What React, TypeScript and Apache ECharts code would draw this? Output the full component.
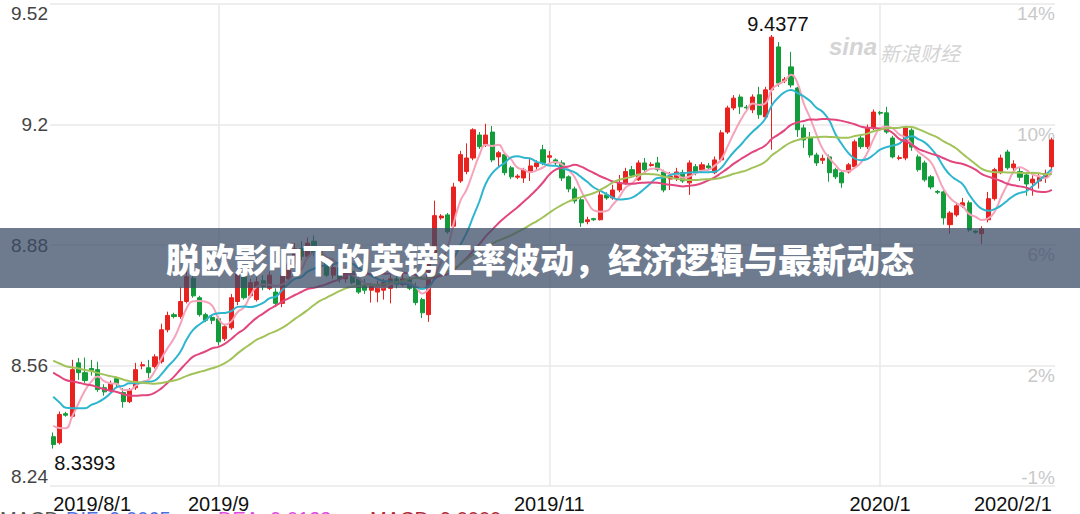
import { useEffect, useRef } from 'react';
import * as echarts from 'echarts';

// ---------- DATA ----------
const skippedDates = ['2019/8/31'];
const xTickLabels: Record<string, string> = {
  '2019/8/1': '2019/8/1',
  '2019/9/2': '2019/9',
  '2019/11/1': '2019/11',
  '2020/1/1': '2020/1',
  '2020/2/1': '2020/2/1',
};
const xGridDates = ['2019/9/2', '2019/11/1', '2020/1/1'];
const priceTicks = [8.24, 8.56, 8.88, 9.2, 9.52];
const pctTicks = [-1, 2, 6, 10, 14];

// closes before the first visible day (used only for the moving averages)
const preCloses = [
  8.66, 8.65, 8.64, 8.63, 8.64, 8.63, 8.64, 8.63, 8.63, 8.62,
  8.63, 8.62, 8.62, 8.61, 8.6, 8.61, 8.6, 8.59, 8.59, 8.58,
  8.58, 8.57, 8.56, 8.54, 8.52, 8.46, 8.43, 8.39, 8.37,
];

// [open, close, low, high]
const candles: number[][] = [
  [8.371, 8.35, 8.3393, 8.382], [8.355, 8.43, 8.35, 8.438], [8.432, 8.428, 8.424, 8.437], [8.425, 8.549, 8.422, 8.575],
  [8.567, 8.541, 8.522, 8.58], [8.541, 8.52, 8.514, 8.581], [8.552, 8.547, 8.533, 8.575], [8.549, 8.496, 8.49, 8.57],
  [8.501, 8.49, 8.48, 8.51], [8.493, 8.512, 8.486, 8.52], [8.525, 8.512, 8.5, 8.53], [8.488, 8.464, 8.448, 8.5],
  [8.464, 8.496, 8.46, 8.5], [8.501, 8.549, 8.495, 8.567], [8.559, 8.562, 8.55, 8.57], [8.554, 8.541, 8.527, 8.575],
  [8.557, 8.583, 8.552, 8.59], [8.57, 8.655, 8.565, 8.671], [8.655, 8.693, 8.648, 8.703], [8.695, 8.69, 8.685, 8.7],
  [8.69, 8.73, 8.684, 8.768], [8.73, 8.796, 8.725, 8.81], [8.792, 8.745, 8.74, 8.8], [8.74, 8.695, 8.69, 8.745],
  [8.695, 8.68, 8.675, 8.7], [8.688, 8.68, 8.67, 8.695], [8.684, 8.623, 8.613, 8.69], [8.631, 8.663, 8.625, 8.67],
  [8.66, 8.74, 8.655, 8.75], [8.73, 8.805, 8.72, 8.83], [8.8, 8.74, 8.735, 8.81], [8.745, 8.78, 8.74, 8.79],
  [8.735, 8.782, 8.73, 8.795], [8.785, 8.77, 8.76, 8.8], [8.765, 8.8, 8.76, 8.81], [8.755, 8.725, 8.715, 8.765],
  [8.725, 8.8, 8.715, 8.815], [8.79, 8.83, 8.785, 8.84], [8.83, 8.87, 8.82, 8.885], [8.87, 8.85, 8.84, 8.89],
  [8.85, 8.885, 8.845, 8.9], [8.89, 8.86, 8.85, 8.905], [8.865, 8.84, 8.83, 8.875], [8.84, 8.8, 8.795, 8.85],
  [8.8, 8.82, 8.79, 8.83], [8.82, 8.79, 8.78, 8.825], [8.79, 8.81, 8.78, 8.82], [8.81, 8.78, 8.775, 8.82],
  [8.79, 8.755, 8.75, 8.8], [8.77, 8.76, 8.75, 8.79], [8.76, 8.77, 8.727, 8.78], [8.755, 8.775, 8.728, 8.785],
  [8.76, 8.78, 8.735, 8.79], [8.765, 8.79, 8.725, 8.8], [8.79, 8.775, 8.765, 8.8], [8.775, 8.79, 8.77, 8.81],
  [8.79, 8.765, 8.76, 8.8], [8.769, 8.727, 8.72, 8.78], [8.735, 8.7, 8.686, 8.74], [8.695, 8.833, 8.676, 8.84],
  [8.845, 8.958, 8.84, 8.998], [8.952, 8.957, 8.947, 8.962], [8.96, 8.915, 8.91, 8.965], [8.93, 9.034, 8.925, 9.045],
  [9.05, 9.12, 9.045, 9.13], [9.075, 9.111, 9.068, 9.15], [9.111, 9.186, 9.105, 9.19], [9.172, 9.141, 9.135, 9.18],
  [9.146, 9.172, 9.14, 9.202], [9.18, 9.106, 9.1, 9.196], [9.114, 9.125, 9.088, 9.13], [9.12, 9.072, 9.065, 9.125],
  [9.085, 9.061, 9.055, 9.09], [9.06, 9.063, 9.055, 9.068], [9.058, 9.08, 9.045, 9.085], [9.075, 9.09, 9.05, 9.112],
  [9.088, 9.098, 9.08, 9.105], [9.133, 9.098, 9.092, 9.146], [9.113, 9.117, 9.098, 9.13], [9.106, 9.098, 9.09, 9.11],
  [9.098, 9.058, 9.05, 9.105], [9.061, 9.029, 9.02, 9.065], [9.029, 8.997, 8.99, 9.035], [9.0, 8.939, 8.928, 9.005],
  [8.942, 8.947, 8.935, 8.955], [8.95, 8.947, 8.944, 8.952], [8.947, 9.013, 8.945, 9.026], [9.013, 9.005, 9.0, 9.02],
  [9.005, 9.026, 9.0, 9.04], [9.026, 9.045, 9.02, 9.066], [9.045, 9.075, 9.04, 9.085], [9.08, 9.065, 9.058, 9.09],
  [9.053, 9.098, 9.05, 9.105], [9.098, 9.08, 9.075, 9.111], [9.091, 9.094, 9.088, 9.1], [9.098, 9.08, 9.075, 9.114],
  [9.074, 9.026, 9.02, 9.08], [9.055, 9.062, 9.026, 9.074], [9.058, 9.074, 9.05, 9.085], [9.072, 9.05, 9.045, 9.08],
  [9.045, 9.098, 9.013, 9.105], [9.088, 9.072, 9.065, 9.095], [9.08, 9.093, 9.075, 9.1], [9.09, 9.085, 9.078, 9.098],
  [9.072, 9.106, 9.068, 9.115], [9.106, 9.178, 9.1, 9.185], [9.18, 9.244, 9.175, 9.25], [9.244, 9.27, 9.238, 9.278],
  [9.273, 9.247, 9.228, 9.28], [9.246, 9.244, 9.238, 9.252], [9.239, 9.273, 9.23, 9.28], [9.279, 9.226, 9.215, 9.3],
  [9.22, 9.292, 9.215, 9.3], [9.292, 9.432, 9.133, 9.4377], [9.406, 9.31, 9.3, 9.419], [9.316, 9.32, 9.31, 9.326],
  [9.353, 9.305, 9.298, 9.393], [9.297, 9.186, 9.167, 9.3], [9.191, 9.159, 9.138, 9.2], [9.164, 9.119, 9.112, 9.18],
  [9.119, 9.098, 9.09, 9.125], [9.105, 9.11, 9.095, 9.12], [9.114, 9.072, 9.048, 9.12], [9.08, 9.061, 9.055, 9.085],
  [9.072, 9.045, 9.032, 9.078], [9.074, 9.093, 9.07, 9.098], [9.088, 9.154, 9.085, 9.16], [9.164, 9.141, 9.135, 9.17],
  [9.141, 9.191, 9.135, 9.2], [9.191, 9.233, 9.185, 9.24], [9.232, 9.23, 9.225, 9.236], [9.231, 9.18, 9.175, 9.247],
  [9.164, 9.114, 9.11, 9.17], [9.11, 9.112, 9.105, 9.118], [9.111, 9.191, 9.105, 9.195], [9.185, 9.14, 9.13, 9.19],
  [9.114, 9.08, 9.075, 9.12], [9.098, 9.053, 9.048, 9.104], [9.061, 9.034, 9.028, 9.066], [9.022, 9.02, 9.015, 9.026],
  [9.021, 8.952, 8.934, 9.025], [8.934, 8.965, 8.91, 8.97], [8.96, 8.984, 8.955, 8.99], [8.984, 8.992, 8.978, 9.005],
  [8.992, 8.92, 8.915, 8.998], [8.917, 8.914, 8.91, 8.92], [8.91, 8.923, 8.883, 8.93], [8.947, 9.003, 8.94, 9.021],
  [9.003, 9.08, 8.998, 9.085], [9.072, 9.111, 9.068, 9.12], [9.127, 9.085, 9.08, 9.133], [9.085, 9.095, 9.075, 9.105],
  [9.075, 9.06, 9.05, 9.085], [9.066, 9.042, 9.011, 9.07], [9.045, 9.055, 9.011, 9.065], [9.05, 9.06, 9.03, 9.07],
  [9.06, 9.07, 9.045, 9.08], [9.088, 9.159, 9.082, 9.165],
];

const maPeriods = [5, 10, 20, 30];
const maColors = ['#f4a3ba', '#2fb6cf', '#e2467e', '#a2c35a'];
const legendTexts = [
  { text: 'MACD', color: '#555555' },
  { text: 'DIF: 9.0065', color: '#4f6fe0' },
  { text: 'DEA: 9.0123', color: '#e04ae0' },
  { text: 'MACD: 9.0000', color: '#b02a3a' },
];
const titleText = '脱欧影响下的英镑汇率波动，经济逻辑与最新动态';

// ---------- HELPERS ----------
function buildCategories(): string[] {
  const out: string[] = [];
  const d = new Date(Date.UTC(2019, 7, 1));
  const end = Date.UTC(2020, 1, 1);
  while (d.getTime() <= end) {
    if (d.getUTCDay() !== 0) {
      const s = `${d.getUTCFullYear()}/${d.getUTCMonth() + 1}/${d.getUTCDate()}`;
      if (!skippedDates.includes(s)) out.push(s);
    }
    d.setUTCDate(d.getUTCDate() + 1);
  }
  return out;
}

function movingAverage(period: number): number[] {
  const all = preCloses.concat(candles.map((c) => c[1]));
  const off = preCloses.length;
  return candles.map((_, i) => {
    let s = 0;
    for (let k = 0; k < period; k++) s += all[off + i - k];
    return +(s / period).toFixed(4);
  });
}

const FONT = '"Liberation Sans", Arial, Helvetica, sans-serif';

export default function App() {
  const ref = useRef<HTMLDivElement>(null);
  useEffect(() => {
    document.body.style.margin = '0';
    if (!ref.current) return;
    const chart = echarts.init(ref.current, undefined, { renderer: 'svg' });
    const categories = buildCategories();
    const catData = categories.map((c, i) => {
      if (i === 0) return { value: c, textStyle: { align: 'left' } };
      if (i === categories.length - 1) return { value: c, textStyle: { align: 'right' } };
      return c;
    });
    let maxIdx = 0;
    let minIdx = 0;
    candles.forEach((c, i) => {
      if (c[3] > candles[maxIdx][3]) maxIdx = i;
      if (c[2] < candles[minIdx][2]) minIdx = i;
    });
    const minPct = Math.min(...pctTicks);

    const maSeries = maPeriods.map((p, k) => ({
      type: 'line',
      name: 'MA' + p,
      data: movingAverage(p),
      smooth: true,
      showSymbol: false,
      symbol: 'none',
      lineStyle: { width: 2, color: maColors[k] },
      itemStyle: { color: maColors[k] },
      z: 3,
      silent: true,
    }));

    chart.setOption({
      animation: false,
      backgroundColor: '#ffffff',
      grid: { left: 50, right: 25, top: 4, bottom: 27, containLabel: false },
      xAxis: {
        type: 'category',
        data: catData,
        boundaryGap: true,
        axisLine: { show: false },
        axisTick: { show: false },
        axisLabel: {
          interval: (_i: number, v: string) => v in xTickLabels,
          formatter: (v: string) => xTickLabels[v] ?? '',
          color: '#111111',
          fontSize: 20,
          fontFamily: FONT,
          margin: 8,
        },
        splitLine: {
          show: true,
          alignWithLabel: true,
          interval: (_i: number, v: string) => xGridDates.includes(v),
          lineStyle: { color: '#e9e9e9', width: 1.5 },
        },
      },
      yAxis: [
        {
          type: 'value',
          min: 8.24,
          max: 9.52,
          position: 'left',
          axisLine: { show: false },
          axisTick: { show: false, customValues: priceTicks },
          axisLabel: {
            customValues: priceTicks,
            formatter: (v: number) => String(v),
            color: '#444444',
            fontSize: 19,
            fontFamily: FONT,
            margin: 2,
            verticalAlignMinLabel: 'bottom',
            verticalAlignMaxLabel: 'top',
          },
          splitLine: { show: true, lineStyle: { color: '#e9e9e9', width: 1.5 } },
        },
        {
          type: 'value',
          min: -2,
          max: 14,
          position: 'right',
          axisLine: { show: false },
          axisTick: { show: false, customValues: pctTicks },
          axisLabel: {
            inside: true,
            customValues: pctTicks,
            formatter: (v: number) => (v === minPct ? `{low|${v}%}` : v + '%'),
            rich: {
              low: { color: '#c9c9c9', fontSize: 19, fontFamily: FONT, padding: [12, 0, 0, 0] },
            },
            color: '#c9c9c9',
            fontSize: 19,
            fontFamily: FONT,
            margin: 0,
            verticalAlign: 'top',
          },
          splitLine: { show: false },
        },
      ],
      series: [
        {
          type: 'candlestick',
          name: 'GBPCNY',
          data: candles,
          barWidth: 4.6,
          z: 2,
          itemStyle: {
            color: '#e8231f',
            color0: '#139c3a',
            borderColor: '#e8231f',
            borderColor0: '#139c3a',
            borderWidth: 1,
          },
          markPoint: {
            symbol: 'circle',
            symbolSize: 0,
            silent: true,
            data: [
              {
                coord: [maxIdx, candles[maxIdx][3]],
                value: candles[maxIdx][3],
                label: { position: 'top', distance: 3, offset: [6, 2] },
              },
              {
                coord: [minIdx, candles[minIdx][2]],
                value: candles[minIdx][2],
                label: { position: 'right', distance: 1, offset: [0, 14] },
              },
            ],
            label: { show: true, color: '#111111', fontSize: 20, fontFamily: FONT, formatter: '{c}' },
          },
        },
        ...maSeries,
      ],
      graphic: [
        {
          type: 'group',
          silent: true,
          z: 1,
          children: [
            {
              type: 'text',
              x: 829,
              y: 34,
              style: {
                text: 'sina',
                fill: '#d4d4d4',
                fontSize: 24,
                fontWeight: 'bold',
                fontStyle: 'italic',
                fontFamily: FONT,
              },
            },
            {
              type: 'text',
              x: 880,
              y: 42,
              style: {
                text: '新浪财经',
                fill: '#d4d4d4',
                fontSize: 20,
                fontStyle: 'italic',
                fontFamily: '"Noto Sans CJK SC", sans-serif',
              },
            },
          ],
        },
        {
          type: 'rect',
          z: 100,
          silent: true,
          shape: { x: 0, y: 228, width: 1080, height: 60 },
          style: { fill: 'rgba(60,75,102,0.74)' },
        },
        {
          type: 'text',
          z: 101,
          silent: true,
          x: 540,
          y: 258,
          style: {
            text: titleText,
            fill: '#ffffff',
            fontSize: 34,
            fontWeight: 900,
            fontFamily: '"Noto Sans CJK SC", sans-serif',
            align: 'center',
            verticalAlign: 'middle',
          },
        },
        ...legendTexts.map((t, k) => ({
          type: 'text',
          z: 50,
          silent: true,
          x: [0, 66, 218, 370][k],
          y: 509,
          style: {
            text: t.text,
            fill: t.color,
            fontSize: 20,
            fontFamily: FONT,
            verticalAlign: 'top',
          },
        })),
      ],
    });
    return () => chart.dispose();
  }, []);
  return <div ref={ref} style={{ width: 1080, height: 514 }} />;
}
